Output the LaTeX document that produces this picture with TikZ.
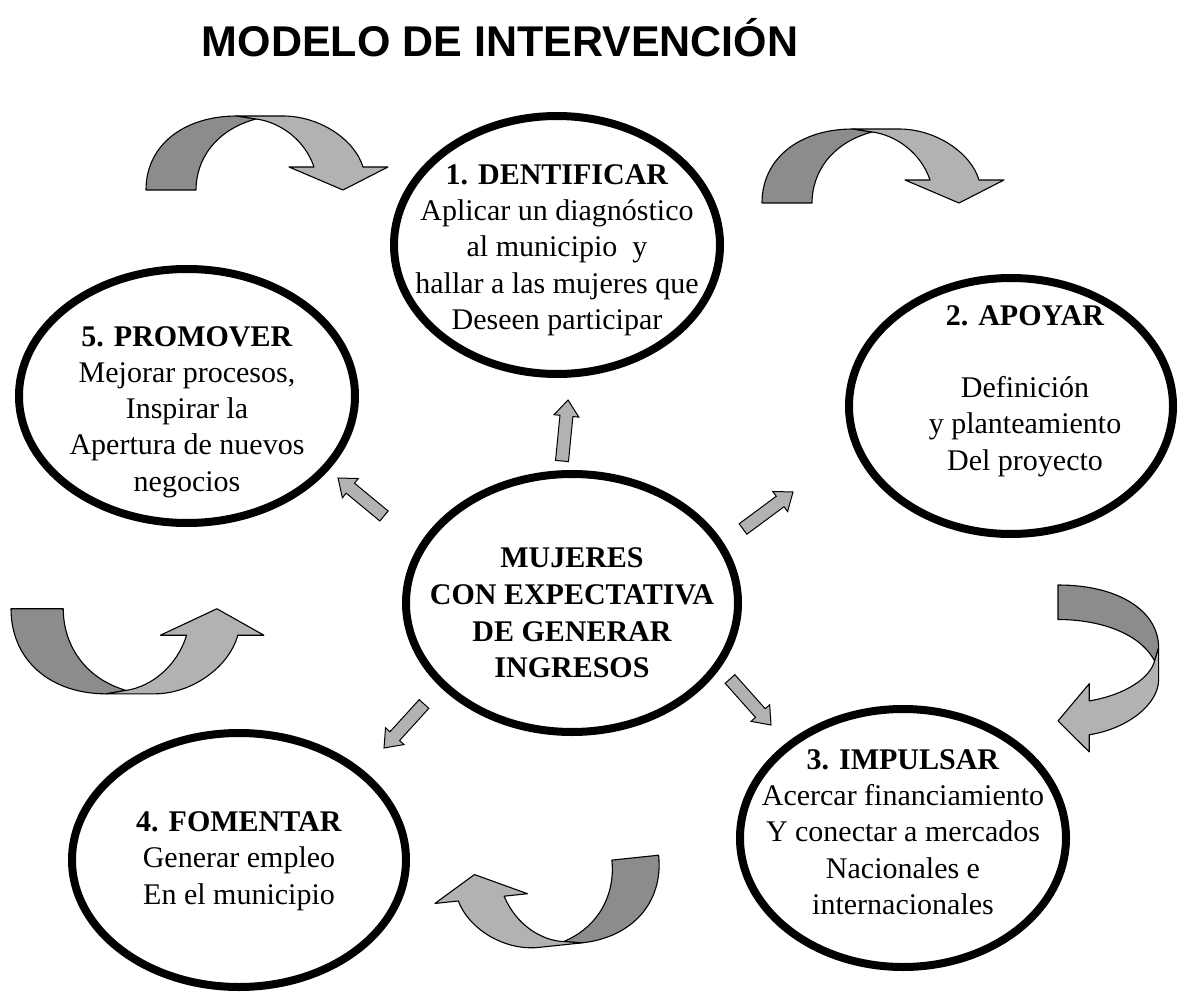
\documentclass[tikz,border=0pt]{standalone}
\usepackage{fontspec}
\setmainfont{Liberation Serif}
\newfontfamily\titlefont{Liberation Sans}
\usepackage{tikz}
\usetikzlibrary{shapes.geometric}
\usetikzlibrary{calc}

\definecolor{ribbondark}{gray}{0.55}
\definecolor{ribbonlight}{gray}{0.70}

% twisted ribbon arrow, drawn in a 242 x 75 box
\newcommand{\ribbon}[1]{%
  \begin{scope}[#1]
    \draw[ribbon edge,fill=ribbondark] (0,75) .. controls (0,30) and (38,1) .. (91,1) -- (110,4) .. controls (69,15) and (50,45) .. (50,75) -- cycle;
    \draw[ribbon edge,fill=ribbonlight] (91,1) -- (137,1) .. controls (174,1) and (209,25) .. (217,52) -- (242,52) -- (197,75) -- (143,52) -- (168,52) .. controls (159,25) and (134,7) .. (110,4) -- cycle;
  \end{scope}}

% block arrow from tail #1 to tip #2
\newcommand{\blockarrow}[2]{%
  \coordinate (hb) at ($(#2)!16pt!(#1)$);
  \draw[block arrow] ($(#1)!6.5pt!90:(#2)$) -- ($(hb)!6.5pt!-90:(#1)$) -- ($(hb)!12.5pt!-90:(#1)$) -- (#2)
    -- ($(hb)!12.5pt!90:(#1)$) -- ($(hb)!6.5pt!90:(#1)$) -- ($(#1)!6.5pt!-90:(#2)$) -- cycle;}

\begin{document}
\begin{tikzpicture}[x=1pt,y=-1pt,
    stage/.style={ellipse,draw,line width=8pt,inner sep=0pt},
    stage text/.style={align=center,inner sep=0pt,font=\fontsize{30}{36.3}\selectfont},
    ribbon edge/.style={draw=black,line width=1.1pt,line join=round},
    block arrow/.style={draw=black,fill=ribbonlight,line width=1pt,line join=miter}]
  \useasboundingbox (0,0) rectangle (1178,992);

  \node[font=\fontsize{43}{50}\titlefont\bfseries,anchor=base,inner sep=0pt] (title) at (500,57) {MODELO DE INTERVENCIÓN};

  % the five stages and the centre
  \node[stage,minimum width=332,minimum height=258] (m) at (572,603) {};
  \node[stage,minimum width=326,minimum height=258] (1) at (557,245) {};
  \node[stage,minimum width=324,minimum height=256] (2) at (1011,406) {};
  \node[stage,minimum width=326,minimum height=258] (3) at (903,838) {};
  \node[stage,minimum width=334,minimum height=254] (4) at (239,860) {};
  \node[stage,minimum width=336,minimum height=254] (5) at (187,396) {};

  \node[stage text,font=\fontsize{30}{36.7}\selectfont\bfseries] (tm) at ([yshift=-10pt]m.center) {MUJERES\\CON EXPECTATIVA\\DE GENERAR\\INGRESOS};
  \node[stage text] (t1) at ([yshift=-5pt]1.center) {\textbf{1. DENTIFICAR}\\Aplicar un diagnóstico\\al municipio\ \ y\\hallar a las mujeres que\\Deseen participar};
  \node[stage text] (t2) at ([xshift=14pt,yshift=15pt]2.center) {\textbf{2. APOYAR}\\[36pt]Definición\\y planteamiento\\Del proyecto};
  \node[stage text] (t3) at ([yshift=6pt]3.center) {\textbf{3. IMPULSAR}\\Acercar financiamiento\\Y conectar a mercados\\Nacionales e\\internacionales};
  \node[stage text] (t4) at ([yshift=-1pt]4.center) {\textbf{4. FOMENTAR}\\Generar empleo\\ En el municipio};
  \node[stage text] (t5) at ([yshift=-16pt]5.center) {\textbf{5. PROMOVER}\\Mejorar procesos,\\Inspirar la\\Apertura de nuevos\\negocios};

  % arrows out of the centre
  \coordinate (a1) at (562,461); \coordinate (b1) at (568,400);
  \coordinate (a2) at (743,529); \coordinate (b2) at (793,492);
  \coordinate (a3) at (730,679); \coordinate (b3) at (771,725);
  \coordinate (a4) at (424,704); \coordinate (b4) at (384,748);
  \coordinate (a5) at (384,516); \coordinate (b5) at (338,478);
  \foreach \i in {1,...,5}
    {\blockarrow{a\i}{b\i}}

  % turning arrows round the cycle
  \ribbon{shift={(146,115)}}
  \ribbon{shift={(762,128)}}
  \ribbon{shift={(1160,585)},rotate=-90,xscale=0.69,yscale=1.36}
  \ribbon{shift={(667,935)},rotate=6,xscale=-0.94,yscale=-1.07}
  \ribbon{shift={(11,695)},xscale=1.045,yscale=-1.15}
\end{tikzpicture}
\end{document}
